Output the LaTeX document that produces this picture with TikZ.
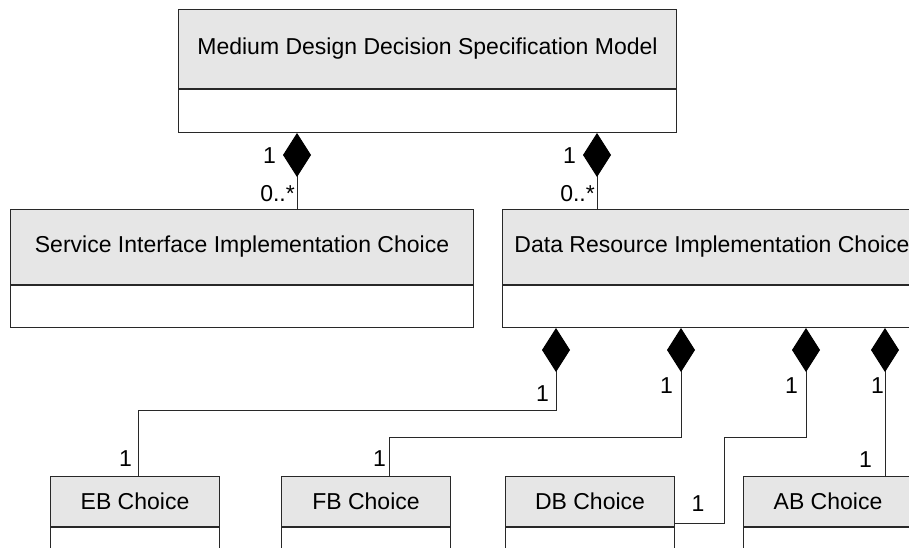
\documentclass[tikz,border=0pt]{standalone}
\usepackage{fontspec}
\setmainfont{Liberation Sans}
\usetikzlibrary{arrows.meta}
\definecolor{headfill}{RGB}{230,230,230}
\definecolor{linec}{RGB}{40,40,40}
\newcommand\umlfont{\fontsize{23}{27}\selectfont}
\tikzset{
  head/.style={rectangle, draw=linec, fill=headfill, line width=1pt,
    inner sep=0pt, anchor=north west, font=\umlfont},
  body/.style={rectangle, draw=linec, fill=white, line width=1pt,
    inner sep=0pt, anchor=north west},
  compose/.style={draw=linec, line width=1pt,
    {Diamond[length=44pt,width=28pt,color=black]}-},
  mult/.style={inner sep=0pt, font=\umlfont},
}
\begin{document}
\begin{tikzpicture}[x=1pt,y=-1pt]
  \useasboundingbox (0,0) rectangle (909,547);
  \clip (0,0) rectangle (909,547);
  % classes
  \node[head, minimum width=498pt, minimum height=79pt] (medium) at (178,9)
    {Medium Design Decision Specification Model};
  \node[body, minimum width=498pt, minimum height=43pt] (mediumbody) at (medium.south west) {};
  \node[head, minimum width=463pt, minimum height=75pt] (sii) at (10,209)
    {Service Interface Implementation Choice};
  \node[body, minimum width=463pt, minimum height=42pt] (siibody) at (sii.south west) {};
  \node[head, minimum width=419pt, minimum height=75pt] (dri) at (502,209)
    {Data Resource Implementation Choice};
  \node[body, minimum width=419pt, minimum height=42pt] (dribody) at (dri.south west) {};
  \node[head, minimum width=169pt, minimum height=50pt] (eb) at (50,476) {EB Choice};
  \node[body, minimum width=169pt, minimum height=60pt] (ebbody) at (eb.south west) {};
  \node[head, minimum width=169pt, minimum height=50pt] (fb) at (281,476) {FB Choice};
  \node[body, minimum width=169pt, minimum height=60pt] (fbbody) at (fb.south west) {};
  \node[head, minimum width=169pt, minimum height=50pt] (db) at (505,476) {DB Choice};
  \node[body, minimum width=169pt, minimum height=60pt] (dbbody) at (db.south west) {};
  \node[head, minimum width=169pt, minimum height=50pt] (ab) at (743,476) {AB Choice};
  \node[body, minimum width=169pt, minimum height=60pt] (abbody) at (ab.south west) {};
  % compositions
  \draw[compose] ([xshift=119pt]mediumbody.south west) coordinate (c1) -- (c1 |- sii.north);
  \draw[compose] ([xshift=419pt]mediumbody.south west) coordinate (c2) -- (c2 |- dri.north);
  \draw[compose] ([xshift=54pt]dribody.south west) -- ++(0,82) -| ([xshift=88pt]eb.north west);
  \draw[compose] ([xshift=179pt]dribody.south west) -- ++(0,109) -| ([xshift=108pt]fb.north west);
  \draw[compose] ([xshift=304pt]dribody.south west) -- ++(0,109) -- ++(-82,0)
    |- ([yshift=4pt]db.south east);
  \draw[compose] ([xshift=383pt]dribody.south west) coordinate (d4) -- (d4 |- ab.north);
  % multiplicities
  \node[mult, anchor=east] (m1) at (276,156) {1};
  \node[mult, anchor=east] (m2) at (295,193.5) {0..*};
  \node[mult, anchor=east] (m3) at (576,156) {1};
  \node[mult, anchor=east] (m4) at (595,193.5) {0..*};
  \node[mult, anchor=east] (m5) at (549,393.5) {1};
  \node[mult, anchor=east] (m6) at (673,386) {1};
  \node[mult, anchor=east] (m7) at (798,386) {1};
  \node[mult, anchor=east] (m8) at (884,386) {1};
  \node[mult, anchor=east] (m9) at (132,459) {1};
  \node[mult, anchor=east] (m10) at (386,459) {1};
  \node[mult, anchor=west] (m11) at (691.5,504) {1};
  \node[mult, anchor=east] (m12) at (872,459.5) {1};
\end{tikzpicture}
\end{document}
